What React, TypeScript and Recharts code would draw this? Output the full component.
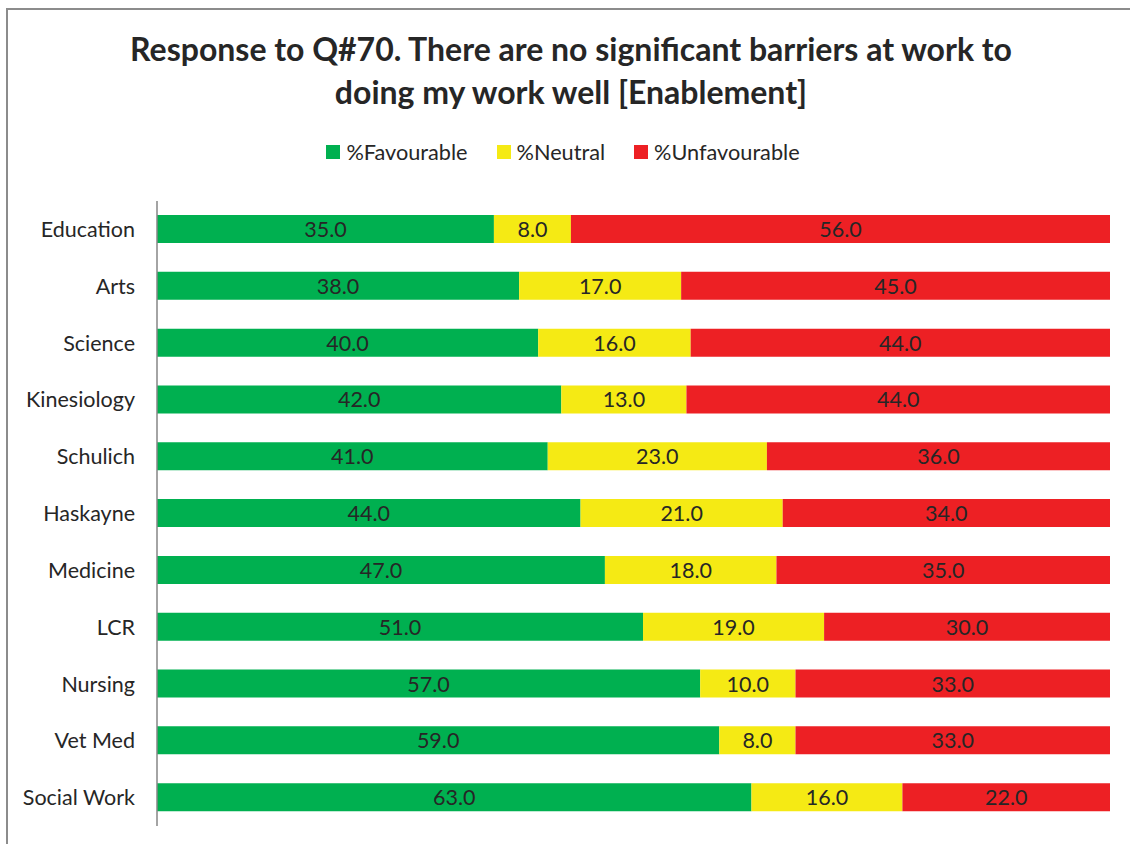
import { BarChart, Bar, XAxis, YAxis, LabelList } from 'recharts'

const categories = ['Education', 'Arts', 'Science', 'Kinesiology', 'Schulich', 'Haskayne', 'Medicine', 'LCR', 'Nursing', 'Vet Med', 'Social Work']
const favourable = [35, 38, 40, 42, 41, 44, 47, 51, 57, 59, 63]
const neutral = [8, 17, 16, 13, 23, 21, 18, 19, 10, 8, 16]
const unfavourable = [56, 45, 44, 44, 36, 34, 35, 30, 33, 33, 22]

const seriesNames = ['%Favourable', '%Neutral', '%Unfavourable']
const seriesColors = ['#00B050', '#F5EA14', '#ED2024']

const TEXT = '#262626'
const FONT = 'Lato, "Open Sans", sans-serif'

const data = categories.map((name, i) => ({
  name,
  fav: favourable[i],
  neu: neutral[i],
  unf: unfavourable[i],
}))

// labels show the raw value, not the expanded fraction
const makeLabel = (vals: number[]) => (p: any) => {
  const vb = p.viewBox || p
  const x = vb.x + vb.width / 2
  const y = vb.y + vb.height / 2
  return (
    <text x={x} y={y} textAnchor="middle" dominantBaseline="central" fill={TEXT} fontSize={21.5} fontFamily={FONT}>
      {vals[p.index].toFixed(1)}
    </text>
  )
}

export default function App() {
  return (
    <div style={{ position: 'absolute', left: 0, top: 0, width: 1130, height: 844, background: '#fff', fontFamily: FONT, overflow: 'hidden' }}>
      <div style={{ position: 'absolute', left: 6, top: 8, width: 1140, height: 850, borderLeft: '2px solid #8c8c8c', borderTop: '2px solid #8c8c8c' }} />
      <div style={{ position: 'absolute', left: 0, top: 27, width: 1142, textAlign: 'center', fontWeight: 700, fontSize: 32, lineHeight: '43px', color: TEXT }}>
        Response to Q#70. There are no significant barriers at work to<br />doing my work well [Enablement]
      </div>
      <div style={{ position: 'absolute', left: 0, top: 139, width: 1126, height: 26, display: 'flex', justifyContent: 'center', alignItems: 'center', gap: 29, fontSize: 21.7, color: TEXT }}>
        {seriesNames.map((n, i) => (
          <div key={n} style={{ display: 'flex', alignItems: 'center' }}>
            <span style={{ width: 14, height: 14, background: seriesColors[i], marginRight: 6, display: 'inline-block' }} />
            <span>{n}</span>
          </div>
        ))}
      </div>
      <div style={{ position: 'absolute', left: 0, top: 0 }}>
        <BarChart width={1130} height={844} data={data} layout="vertical" stackOffset="expand" margin={{ top: 201, right: 20, left: 12, bottom: 18 }}>
          <XAxis type="number" hide domain={[0, 1]} />
          <YAxis
            type="category"
            dataKey="name"
            width={145}
            tickLine={false}
            tickMargin={16}
            axisLine={{ stroke: '#868686', strokeWidth: 1.5 }}
            tick={{ fontSize: 21.5, fill: TEXT, fontFamily: FONT }}
          />
          <Bar dataKey="fav" stackId="a" fill={seriesColors[0]} barSize={28} isAnimationActive={false}>
            <LabelList dataKey="fav" content={makeLabel(favourable)} />
          </Bar>
          <Bar dataKey="neu" stackId="a" fill={seriesColors[1]} barSize={28} isAnimationActive={false}>
            <LabelList dataKey="neu" content={makeLabel(neutral)} />
          </Bar>
          <Bar dataKey="unf" stackId="a" fill={seriesColors[2]} barSize={28} isAnimationActive={false}>
            <LabelList dataKey="unf" content={makeLabel(unfavourable)} />
          </Bar>
        </BarChart>
      </div>
    </div>
  )
}
